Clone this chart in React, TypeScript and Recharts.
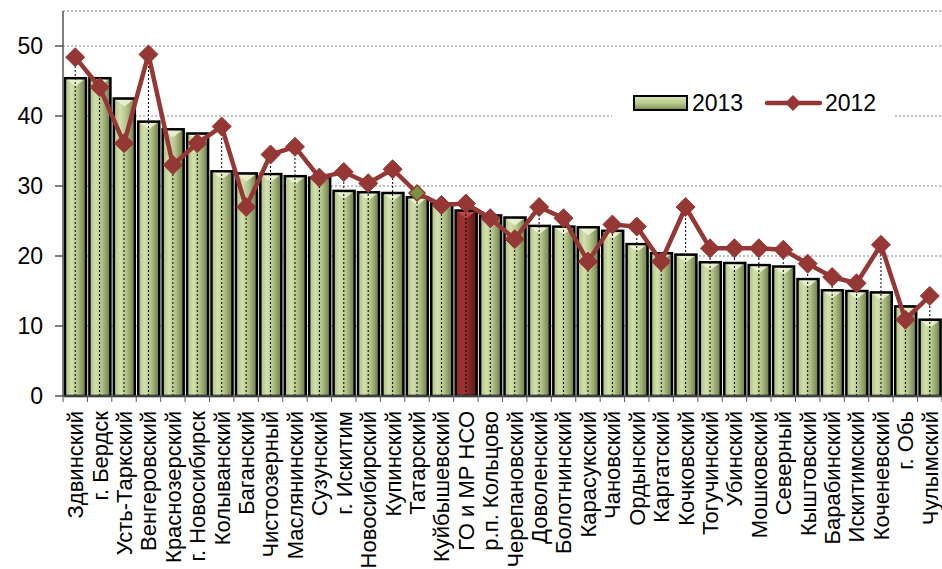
import React from 'react';
import { ComposedChart, Bar, Line, XAxis, YAxis, CartesianGrid, Legend, ErrorBar } from 'recharts';

const CATEGORIES = [
  'Здвинский', 'г. Бердск', 'Усть-Таркский', 'Венгеровский', 'Краснозерский', 'г. Новосибирск',
  'Колыванский', 'Баганский', 'Чистоозерный', 'Маслянинский', 'Сузунский', 'г. Искитим',
  'Новосибирский', 'Купинский', 'Татарский', 'Куйбышевский', 'ГО и МР НСО', 'р.п. Кольцово',
  'Черепановский', 'Доволенский', 'Болотнинский', 'Карасукский', 'Чановский', 'Ордынский',
  'Каргатский', 'Кочковский', 'Тогучинский', 'Убинский', 'Мошковский', 'Северный',
  'Кыштовский', 'Барабинский', 'Искитимский', 'Коченевский', 'г. Обь', 'Чулымский',
];

const VALUES_2013 = [
  45.4, 45.4, 42.5, 39.2, 38.1, 37.5, 32.1, 31.8, 31.7, 31.4, 31.2, 29.3,
  29.1, 29.0, 28.4, 27.5, 26.5, 25.8, 25.5, 24.3, 24.2, 24.1, 23.6, 21.7,
  20.4, 20.2, 19.1, 19.0, 18.7, 18.5, 16.7, 15.1, 15.0, 14.8, 12.8, 10.9,
];

const VALUES_2012 = [
  48.4, 44.1, 36.1, 48.8, 33.0, 36.1, 38.5, 27.0, 34.5, 35.6, 31.2, 32.0,
  30.4, 32.4, 29.0, 27.3, 27.5, 25.4, 22.4, 27.0, 25.4, 19.2, 24.5, 24.2,
  19.2, 27.0, 21.1, 21.1, 21.1, 20.9, 18.9, 17.0, 16.1, 21.6, 10.9, 14.3,
];

const SERIES = ['2013', '2012'];
const Y_TICKS = [0, 10, 20, 30, 40, 50];
const HIGHLIGHT_BAR = 'ГО и МР НСО';
const HIGHLIGHT_POINT = 'Татарский';

const LINE_COLOR = '#953735';

const data = CATEGORIES.map((name, i) => ({
  name,
  v2013: VALUES_2013[i],
  v2012: VALUES_2012[i],
}));

const BarShape = (props: any) => {
  const { x, y, width, height, payload } = props;
  if (height <= 0) return null;
  const red = payload.name === HIGHLIGHT_BAR;
  return (
    <g>
      <rect
        x={x}
        y={y}
        width={width}
        height={height}
        fill={red ? 'url(#barRed)' : 'url(#barGreen)'}
        stroke="#000"
        strokeWidth={2.5}
      />
      <polygon
        points={`${x + 2},${y + 1.5} ${x + width - 2},${y + 1.5} ${x + width / 2},${y + 8}`}
        fill={red ? '#c0504d' : '#eef5d8'}
        opacity={0.85}
      />
    </g>
  );
};

const Diamond = (props: any) => {
  const { cx, cy, payload, index } = props;
  if (cx == null || cy == null) return null;
  const green = payload.name === HIGHLIGHT_POINT;
  const r = green ? 8 : 9.5;
  return (
    <path
      key={`d-${index}`}
      d={`M${cx},${cy - r} L${cx + r},${cy} L${cx},${cy + r} L${cx - r},${cy} Z`}
      fill={green ? '#77933c' : LINE_COLOR}
      stroke={LINE_COLOR}
      strokeWidth={green ? 1.5 : 1}
    />
  );
};

const XTick = (props: any) => {
  const { x, y, payload, index, width } = props;
  const step = (typeof width === 'number' ? width : 879) / CATEGORIES.length;
  const axisY = y - 15;
  return (
    <g>
      <line x1={x - step / 2} y1={axisY} x2={x - step / 2} y2={axisY + 6} stroke="#555" />
      {index === CATEGORIES.length - 1 && (
        <line x1={x + step / 2} y1={axisY} x2={x + step / 2} y2={axisY + 6} stroke="#555" />
      )}
      <text
        x={x}
        y={y}
        transform={`rotate(-90, ${x}, ${y})`}
        textAnchor="end"
        dy="0.36em"
        fontSize={22}
        fill="#000"
      >
        {payload.value}
      </text>
    </g>
  );
};

const LegendContent = () => (
  <svg width={282} height={40}>
    <defs>
      <linearGradient id="legendGreen" x1="0" y1="0" x2="0" y2="1">
        <stop offset="0%" stopColor="#d9e6b8" />
        <stop offset="50%" stopColor="#b9cc8c" />
        <stop offset="100%" stopColor="#7c8c52" />
      </linearGradient>
    </defs>
    <rect x={22} y={13} width={53} height={14} fill="url(#legendGreen)" stroke="#000" strokeWidth={2} />
    <text x={80} y={20} dy="0.36em" fontSize={23} fill="#000">{SERIES[0]}</text>
    <line x1={155} y1={20} x2={208} y2={20} stroke={LINE_COLOR} strokeWidth={4.5} strokeLinecap="round" />
    <path d="M181,12 L189,20 L181,28 L173,20 Z" fill={LINE_COLOR} />
    <text x={213} y={20} dy="0.36em" fontSize={23} fill="#000">{SERIES[1]}</text>
  </svg>
);

export default function App() {
  return (
    <div style={{ position: 'absolute', left: 0, top: 0, fontFamily: '"Liberation Sans", Arial, sans-serif', background: '#fff' }}>
      <ComposedChart
        width={942}
        height={569}
        data={data}
        margin={{ top: 11, right: 0, left: 0, bottom: 0 }}
      >
        <defs>
          <linearGradient id="barGreen" x1="0" y1="0" x2="1" y2="0">
            <stop offset="0%" stopColor="#aabf7e" />
            <stop offset="30%" stopColor="#d2e0ae" />
            <stop offset="60%" stopColor="#b2c489" />
            <stop offset="100%" stopColor="#6b7a48" />
          </linearGradient>
          <linearGradient id="barRed" x1="0" y1="0" x2="1" y2="0">
            <stop offset="0%" stopColor="#8c2a2a" />
            <stop offset="35%" stopColor="#9e3434" />
            <stop offset="100%" stopColor="#5a1818" />
          </linearGradient>
        </defs>
        <CartesianGrid vertical={false} stroke="#808080" strokeDasharray="2 2" />
        <XAxis
          dataKey="name"
          interval={0}
          height={173}
          tick={<XTick />}
          tickLine={false}
          tickSize={6}
          tickMargin={9}
          axisLine={{ stroke: '#555', strokeWidth: 1.5 }}
        />
        <YAxis
          width={63}
          domain={[0, 55]}
          ticks={Y_TICKS}
          tickSize={8}
          tickMargin={12}
          tick={{ fontSize: 23, fill: '#000' }}
          tickLine={{ stroke: '#555', strokeWidth: 1.5 }}
          axisLine={{ stroke: '#555', strokeWidth: 1.5 }}
        />
        <Bar
          dataKey="v2013"
          name={SERIES[0]}
          barSize={21}
          shape={BarShape}
          isAnimationActive={false}
        />
        <Line
          dataKey="v2012"
          name={SERIES[1]}
          stroke={LINE_COLOR}
          strokeWidth={4.5}
          dot={Diamond}
          activeDot={false}
          isAnimationActive={false}
        >
          <ErrorBar
            dataKey={(d: any) => [d.v2012, 0]}
            direction="y"
            width={0}
            stroke="#000"
            strokeWidth={1}
            strokeDasharray="2 2"
            isAnimationActive={false}
          />
        </Line>
        <Legend
          layout="vertical"
          align="center"
          verticalAlign="middle"
          content={LegendContent}
          wrapperStyle={{ position: 'absolute', left: 612, top: 83, width: 282, height: 40, background: '#fff' }}
        />
      </ComposedChart>
    </div>
  );
}
